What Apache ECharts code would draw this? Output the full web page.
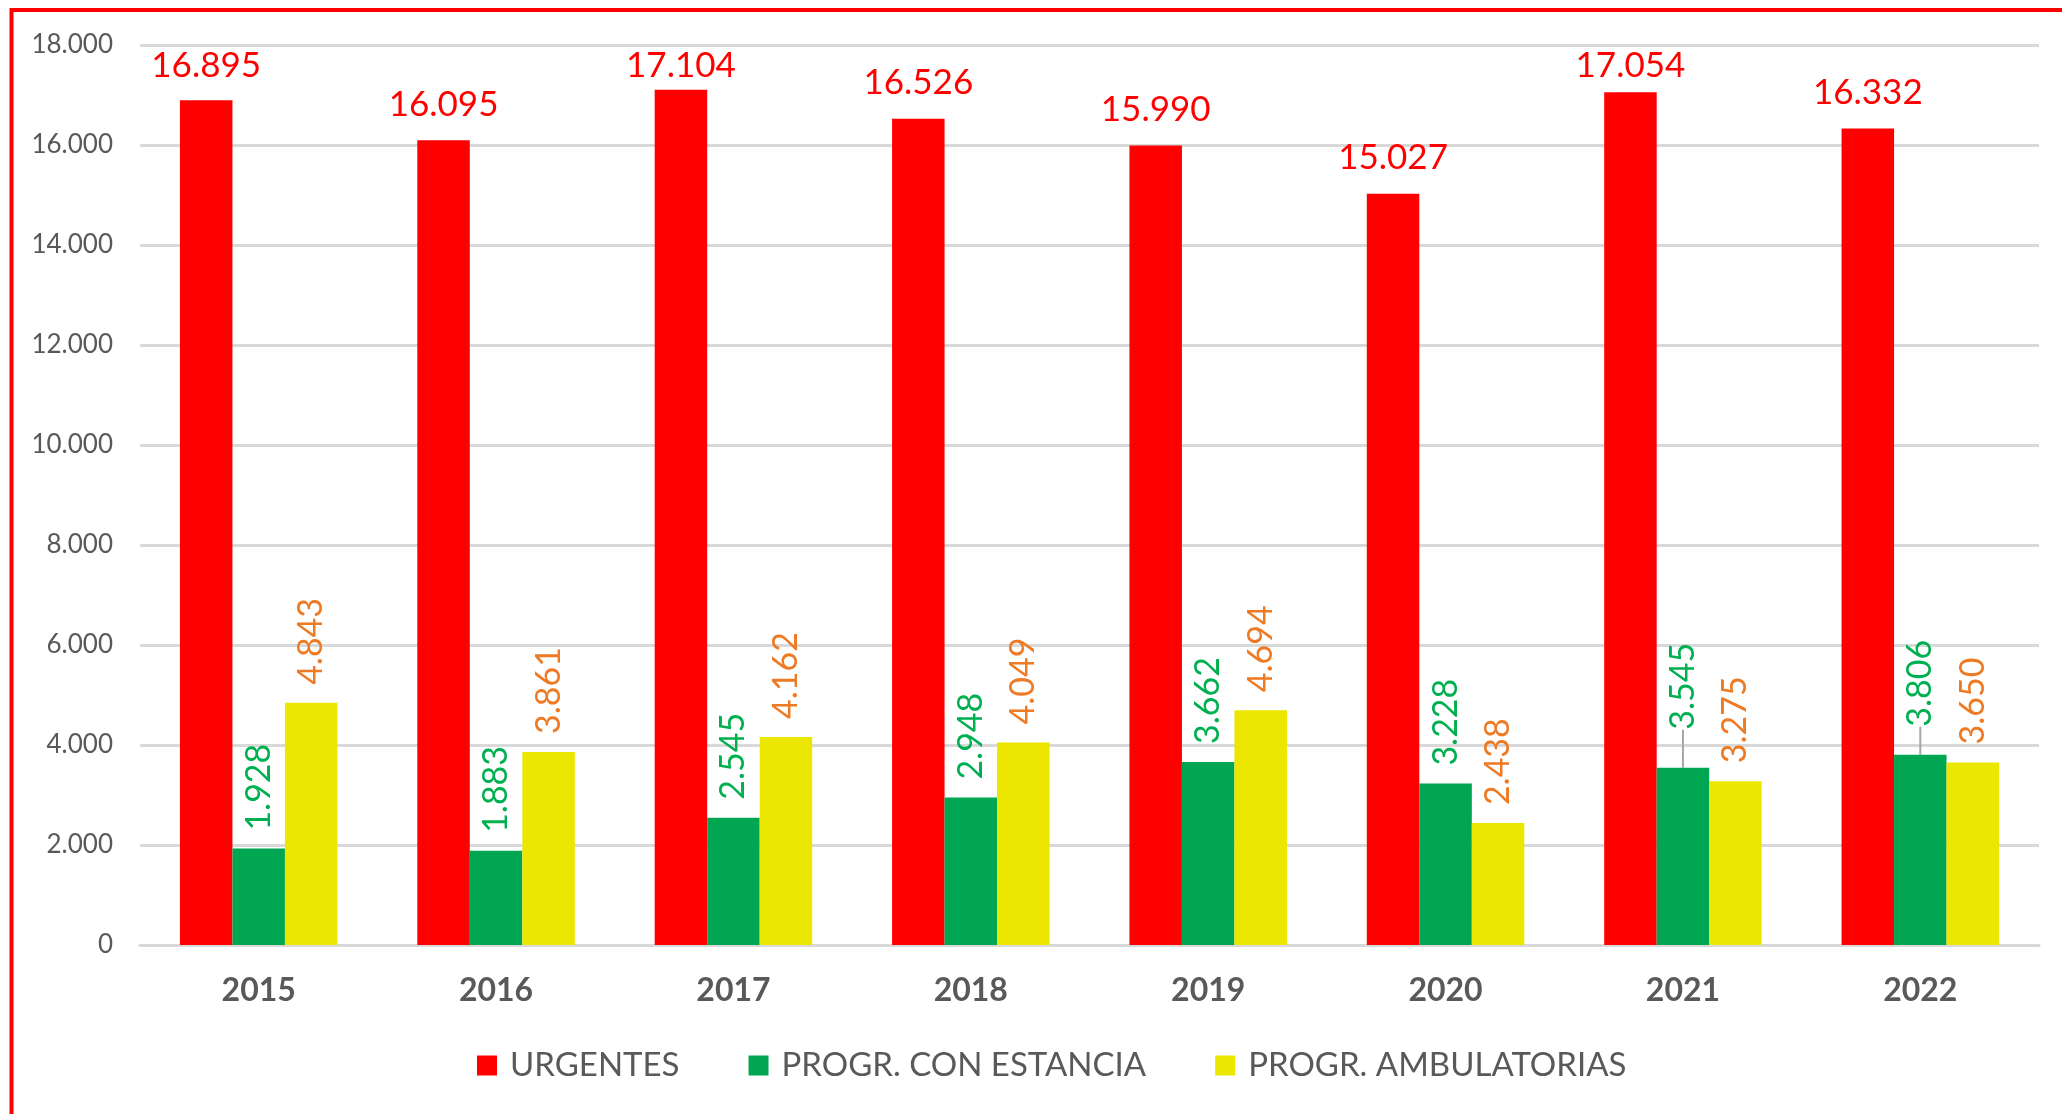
<!DOCTYPE html>
<html>
<head>
<meta charset="utf-8">
<script src="https://cdn.jsdelivr.net/npm/echarts@6/dist/echarts.min.js"></script>
<style>
  html, body { margin: 0; padding: 0; background: #fff; }
  #myChart { width: 2062px; height: 1114px; }
</style>
</head>
<body>
<div id="myChart"></div>
<script>
// datos del gráfico
var years = ['2015', '2016', '2017', '2018', '2019', '2020', '2021', '2022'];
var urgentes = [16895, 16095, 17104, 16526, 15990, 15027, 17054, 16332];
var conEstancia = [1928, 1883, 2545, 2948, 3662, 3228, 3545, 3806];
var ambulatorias = [4843, 3861, 4162, 4049, 4694, 2438, 3275, 3650];
var seriesNames = ['URGENTES', 'PROGR. CON ESTANCIA', 'PROGR. AMBULATORIAS'];
// etiquetas desplazadas (con línea guía) en PROGR. CON ESTANCIA
var movedLabels = { 6: 20, 7: 10 };

// formato con punto de miles: 16895 -> 16.895
function fmt(v) {
  return String(v).replace(/\B(?=(\d{3})+(?!\d))/g, '.');
}

var font = 'Lato, "Open Sans", sans-serif';

var option = {
  backgroundColor: '#fff',
  textStyle: { fontFamily: font },
  animation: false,
  graphic: [
    {
      type: 'rect',
      shape: { x: 11.5, y: 10, width: 2200, height: 1300 },
      style: { fill: 'none', stroke: '#ff0000', lineWidth: 4 },
      silent: true
    }
  ],
  legend: {
    left: 472,
    top: 1044,
    icon: 'rect',
    itemWidth: 20,
    itemHeight: 20,
    itemGap: 69,
    textStyle: {
      color: '#595959',
      fontSize: 33,
      fontFamily: font,
      padding: [0, 0, 0, 8]
    },
    data: seriesNames
  },
  grid: {
    left: 140,
    right: 23,
    top: 45,
    bottom: 169,
    outerBoundsMode: 'none'
  },
  xAxis: {
    type: 'category',
    data: years,
    axisTick: { show: false },
    axisLine: { lineStyle: { color: '#d9d9d9', width: 3 } },
    axisLabel: {
      color: '#595959',
      fontSize: 32,
      fontWeight: 'bold',
      fontFamily: font,
      margin: 30
    }
  },
  yAxis: {
    type: 'value',
    min: 0,
    max: 18000,
    interval: 2000,
    axisLine: { show: false },
    axisTick: { show: false },
    splitLine: { lineStyle: { color: '#d9d9d9', width: 3 } },
    axisLabel: {
      color: '#595959',
      fontSize: 26,
      fontFamily: font,
      margin: 27,
      formatter: function (v) { return fmt(v); }
    }
  },
  series: [
    {
      name: seriesNames[0],
      type: 'bar',
      barWidth: 52.5,
      barGap: '0%',
      itemStyle: { color: '#ff0000' },
      label: {
        show: true,
        position: 'top',
        distance: 18,
        color: '#ff0000',
        fontSize: 35,
        fontFamily: font,
        formatter: function (p) { return fmt(p.value); }
      },
      // las etiquetas no salen por encima del área de trazado
      labelLayout: function (params) {
        if (params.labelRect.y < 48) {
          return { dy: 48 - params.labelRect.y };
        }
      },
      data: urgentes
    },
    {
      name: seriesNames[1],
      type: 'bar',
      barWidth: 52.5,
      barGap: '0%',
      itemStyle: { color: '#00a651' },
      label: {
        show: true,
        position: 'top',
        distance: 18,
        rotate: 90,
        align: 'left',
        verticalAlign: 'middle',
        color: '#00b050',
        fontSize: 34,
        fontFamily: font,
        formatter: function (p) { return fmt(p.value); }
      },
      labelLine: { lineStyle: { color: '#a6a6a6', width: 2 } },
      labelLayout: function (params) {
        var dx = movedLabels[params.dataIndex];
        if (dx != null) {
          return { dx: dx };
        }
      },
      data: conEstancia.map(function (v, i) {
        if (movedLabels[i] != null) {
          return { value: v, labelLine: { show: true } };
        }
        return v;
      })
    },
    {
      name: seriesNames[2],
      type: 'bar',
      barWidth: 52.5,
      barGap: '0%',
      itemStyle: { color: '#ebe700' },
      label: {
        show: true,
        position: 'top',
        distance: 18,
        rotate: 90,
        align: 'left',
        verticalAlign: 'middle',
        color: '#ee7a24',
        fontSize: 34,
        fontFamily: font,
        formatter: function (p) { return fmt(p.value); }
      },
      data: ambulatorias
    }
  ]
};

var chart = echarts.init(document.getElementById('myChart'));
chart.setOption(option);
window.addEventListener('resize', function () {
  chart.resize();
});
</script>
</body>
</html>
